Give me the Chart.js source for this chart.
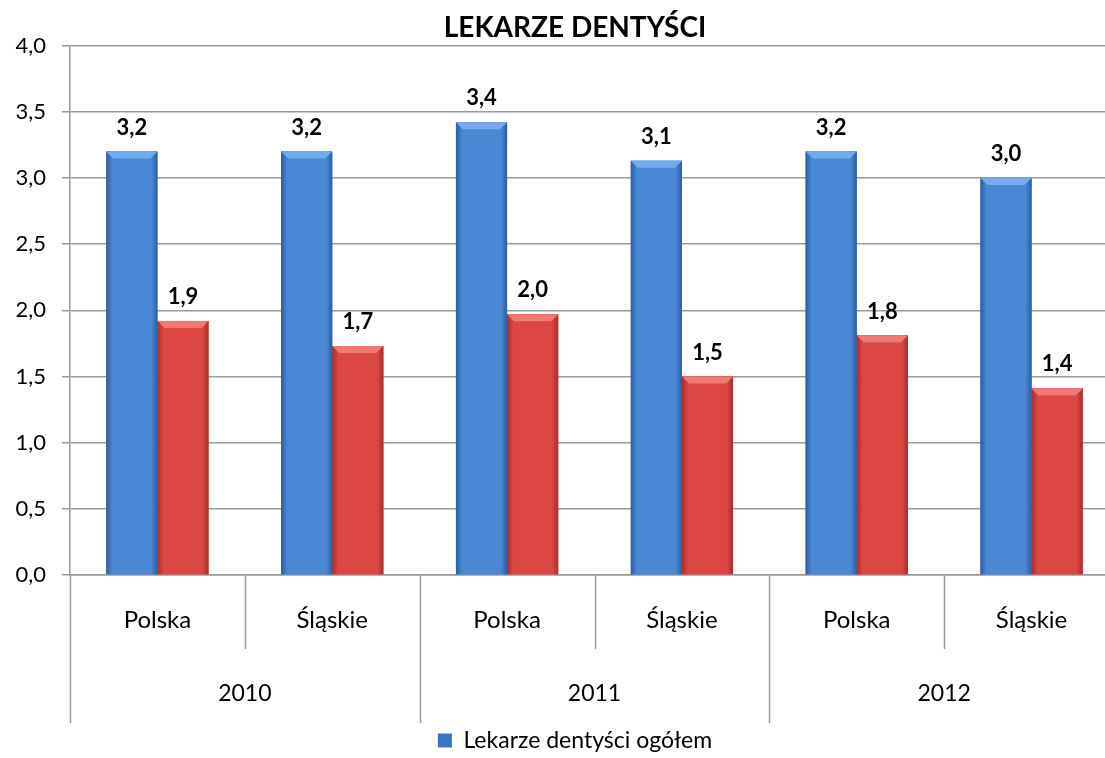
<!DOCTYPE html>
<html>
<head>
<meta charset="utf-8">
<script src="https://cdn.jsdelivr.net/npm/chart.js@4.4.1/dist/chart.umd.min.js"></script>
<style>
  html, body { margin: 0; padding: 0; background: #fff; overflow: hidden; }
  #wrap { position: relative; width: 1150px; height: 758px; }
</style>
</head>
<body>
<div id="wrap"><canvas id="dentChart"></canvas></div>
<script>
const regions = ['Polska', 'Śląskie', 'Polska', 'Śląskie', 'Polska', 'Śląskie'];
const years = ['2010', '2011', '2012'];
const totalValues = [3.2, 3.2, 3.42, 3.13, 3.2, 3.0];
const secondValues = [1.92, 1.73, 1.97, 1.5, 1.81, 1.41];
const yTicks = [0, 0.5, 1, 1.5, 2, 2.5, 3, 3.5, 4];

const FONT = "Lato, 'Noto Sans', sans-serif";
const fmt = v => v.toFixed(1).replace('.', ',');

// bevel shading per dataset: edge, middle, top highlight
const shades = [
  { edge: '#2b5ca3', mid: '#4a88d6', top: '#74abee' },
  { edge: '#a52e2b', mid: '#dc4741', top: '#ee7a72' }
];

// glossy bars, drawn over the plain ones
const bevelPlugin = {
  id: 'bevel',
  afterDatasetsDraw(chart) {
    const ctx = chart.ctx;
    ctx.save();
    chart.data.datasets.forEach((ds, di) => {
      const s = shades[di];
      chart.getDatasetMeta(di).data.forEach(bar => {
        const left = bar.x - bar.width / 2;
        const right = bar.x + bar.width / 2;
        const top = bar.y;
        const base = bar.base;
        const g = ctx.createLinearGradient(left, 0, right, 0);
        g.addColorStop(0, s.edge);
        g.addColorStop(0.12, s.mid);
        g.addColorStop(0.5, s.mid);
        g.addColorStop(0.88, s.mid);
        g.addColorStop(1, s.edge);
        ctx.fillStyle = g;
        ctx.fillRect(left, top, bar.width, base - top);
        // top bevel
        const b = 7;
        ctx.fillStyle = s.top;
        ctx.beginPath();
        ctx.moveTo(left, top);
        ctx.lineTo(right, top);
        ctx.lineTo(right - b, top + b);
        ctx.lineTo(left + b, top + b);
        ctx.closePath();
        ctx.fill();
      });
    });
    ctx.restore();
  }
};

// separators + year row under the category labels
const groupAxisPlugin = {
  id: 'groupAxis',
  afterDraw(chart) {
    const xs = chart.scales.x;
    const ctx = chart.ctx;
    const bottom = chart.chartArea.bottom;
    ctx.save();
    ctx.strokeStyle = '#9a9a9a';
    ctx.lineWidth = 1.5;
    for (let k = 0; k <= regions.length; k++) {
      const x = Math.round(xs.getPixelForValue(k - 0.5)) + 0.5;
      const len = k % 2 === 0 ? 148 : 74;
      ctx.beginPath();
      ctx.moveTo(x, bottom);
      ctx.lineTo(x, bottom + len);
      ctx.stroke();
    }
    ctx.fillStyle = '#000';
    ctx.font = '23px ' + FONT;
    ctx.textAlign = 'center';
    ctx.textBaseline = 'middle';
    years.forEach((y, i) => {
      const x = xs.getPixelForValue(i * 2 + 0.5);
      ctx.fillText(y, x, bottom + 119);
    });
    ctx.restore();
  }
};

// value labels above bars
const valueLabelPlugin = {
  id: 'valueLabels',
  afterDatasetsDraw(chart) {
    const ctx = chart.ctx;
    ctx.save();
    ctx.fillStyle = '#000';
    ctx.font = 'bold 22px ' + FONT;
    ctx.textAlign = 'center';
    ctx.textBaseline = 'middle';
    chart.data.datasets.forEach((ds, di) => {
      chart.getDatasetMeta(di).data.forEach((bar, i) => {
        ctx.fillText(fmt(ds.data[i]), bar.x, bar.y - 24);
      });
    });
    ctx.restore();
  }
};

const ctx = document.getElementById('dentChart').getContext('2d');
new Chart(ctx, {
  type: 'bar',
  data: {
    labels: regions,
    datasets: [{
      label: 'Lekarze dentyści ogółem',
      data: totalValues,
      backgroundColor: '#3b74c3',
      borderWidth: 0
    }, {
      label: '',
      data: secondValues,
      backgroundColor: '#d13f3c',
      borderWidth: 0
    }]
  },
  options: {
    responsive: true,
    maintainAspectRatio: false,
    animation: false,
    layout: { padding: { top: 0, left: 0, right: 0, bottom: -4 } },
    datasets: { bar: { categoryPercentage: 0.585, barPercentage: 1 } },
    plugins: {
      title: {
        display: true,
        text: 'LEKARZE DENTYŚCI',
        color: '#000',
        font: { family: FONT, size: 28, weight: 'bold' },
        padding: { top: 11, bottom: 1 }
      },
      legend: {
        position: 'bottom',
        labels: {
          filter: item => item.datasetIndex === 0,
          color: '#000',
          font: { family: FONT, size: 23 },
          boxWidth: 14,
          boxHeight: 14,
          padding: 0
        }
      },
      tooltip: { enabled: false }
    },
    scales: {
      x: {
        grid: { display: false, drawTicks: false },
        border: { display: true, color: '#9a9a9a', width: 1.5 },
        ticks: { color: '#000', font: { family: FONT, size: 24 }, padding: 31, maxRotation: 0 },
        afterFit(s) { s.height = 154; }
      },
      y: {
        min: 0,
        max: 4,
        afterBuildTicks(s) { s.ticks = yTicks.map(v => ({ value: v })); },
        grid: { color: '#9a9a9a', lineWidth: 1.5, tickLength: 8 },
        border: { color: '#9a9a9a', width: 1.5 },
        ticks: { color: '#000', font: { family: FONT, size: 22 }, padding: 16, callback: v => fmt(v) },
        afterFit(s) { s.width = 70; }
      },
      yR: {
        position: 'right',
        grid: { display: false },
        border: { display: false },
        ticks: { display: false },
        afterFit(s) { s.width = 31; }
      }
    }
  },
  plugins: [bevelPlugin, groupAxisPlugin, valueLabelPlugin]
});
</script>
</body>
</html>
